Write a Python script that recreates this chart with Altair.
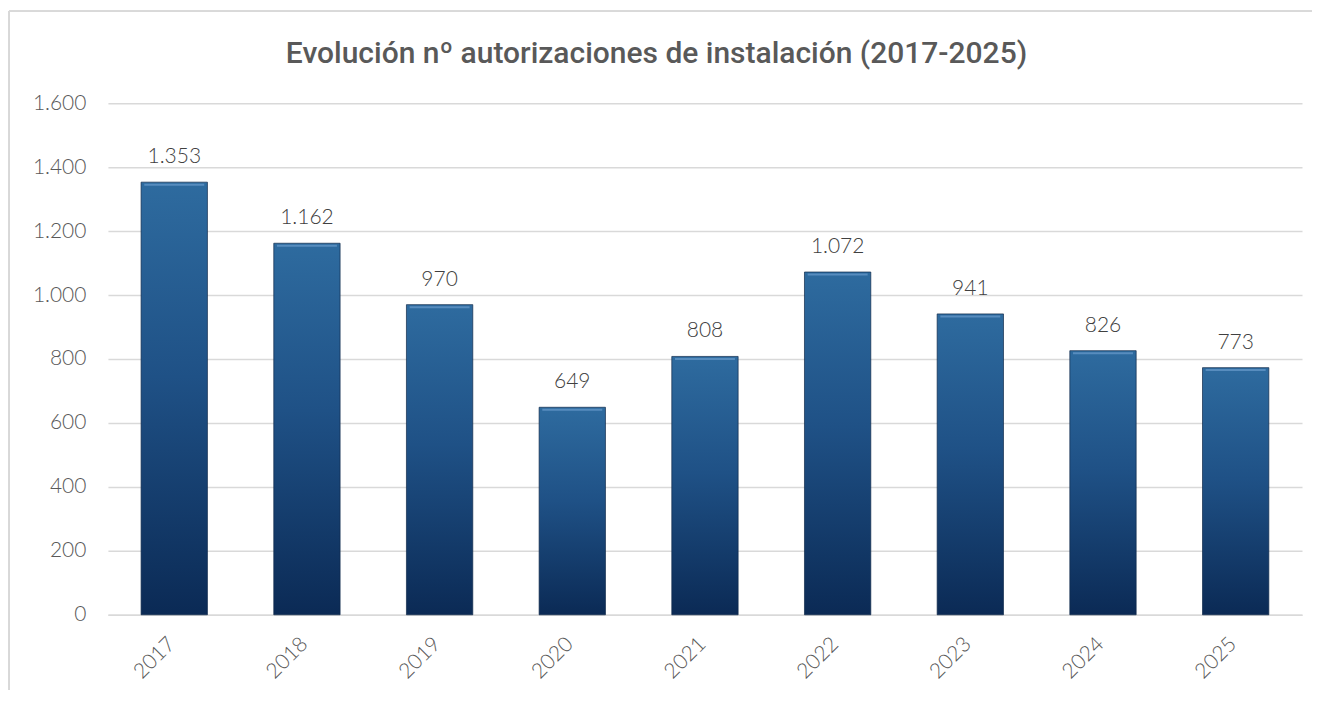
import altair as alt
import pandas as pd

years = ["2017", "2018", "2019", "2020", "2021", "2022", "2023", "2024", "2025"]
values = [1353, 1162, 970, 649, 808, 1072, 941, 826, 773]
title_text = "Evolución nº autorizaciones de instalación (2017-2025)"

df = pd.DataFrame({"year": years, "value": values})

W, H = 1195, 512
PL, PT = 100, 95

x = alt.X("year:N", sort=years,
          scale=alt.Scale(paddingInner=0.5, paddingOuter=0.25),
          axis=alt.Axis(title=None, labelAngle=-45, labelFontSize=21, labelColor="#595959",
                        labelFont="Lato", labelFontWeight=300, labelPadding=18, labelOffset=-10,
                        ticks=False, domainColor="#d9d9d9", domainWidth=1.5, grid=False))
y = alt.Y("value:Q", scale=alt.Scale(domain=[0, 1600]),
          axis=alt.Axis(title=None, values=list(range(0, 1601, 200)), labelFontSize=21,
                        labelColor="#595959", labelFont="Lato", labelFontWeight=300, labelPadding=22,
                        ticks=False, domain=False, gridColor="#d9d9d9", gridWidth=1.5,
                        labelExpr="replace(format(datum.value, ','), ',', '.')"))

grad = alt.Gradient(gradient="linear", x1=0, y1=0, x2=0, y2=1,
                    stops=[alt.GradientStop(color="#2e6b9f", offset=0),
                           alt.GradientStop(color="#1f5186", offset=0.45),
                           alt.GradientStop(color="#0b2a55", offset=1)])

bars = alt.Chart(df).mark_bar(color=grad, stroke="#10294a", strokeWidth=1, strokeOpacity=0.7).encode(x=x, y=y)

highlight = alt.Chart(df).mark_tick(color="#6a9bcc", thickness=2, size=60, yOffset=2.5).encode(
    x=alt.X("year:N", sort=years), y="value:Q")

labels = alt.Chart(df).transform_calculate(
    lab="replace(format(datum.value, ','), ',', '.')"
).mark_text(baseline="bottom", dy=-15, fontSize=21, font="Lato", fontWeight=300, color="#404040").encode(
    x=alt.X("year:N", sort=years), y="value:Q", text="lab:N")

title = alt.Chart(pd.DataFrame({"t": [title_text]})).mark_text(
    font="Roboto", fontSize=30, fontWeight=500, color="#595959", align="center", baseline="alphabetic"
).encode(text="t:N", x=alt.value(549), y=alt.value(-40))

border_top = alt.Chart(df).mark_rule(color="#d9d9d9", strokeWidth=1.5).encode(
    x=alt.value(-99), x2=alt.value(1300), y=alt.value(-92))
border_left = alt.Chart(df).mark_rule(color="#d9d9d9", strokeWidth=1.5).encode(
    x=alt.value(-99), y=alt.value(-92), y2=alt.value(600))

chart = alt.layer(border_top, border_left, bars, highlight, labels, title).properties(
    width=W, height=H,
    autosize=alt.AutoSizeParams(type="none"),
    padding={"left": PL, "top": PT, "right": 10, "bottom": 75},
).configure_view(stroke=None)

chart.save("out.html", embed_options={"renderer": "svg", "actions": False})
